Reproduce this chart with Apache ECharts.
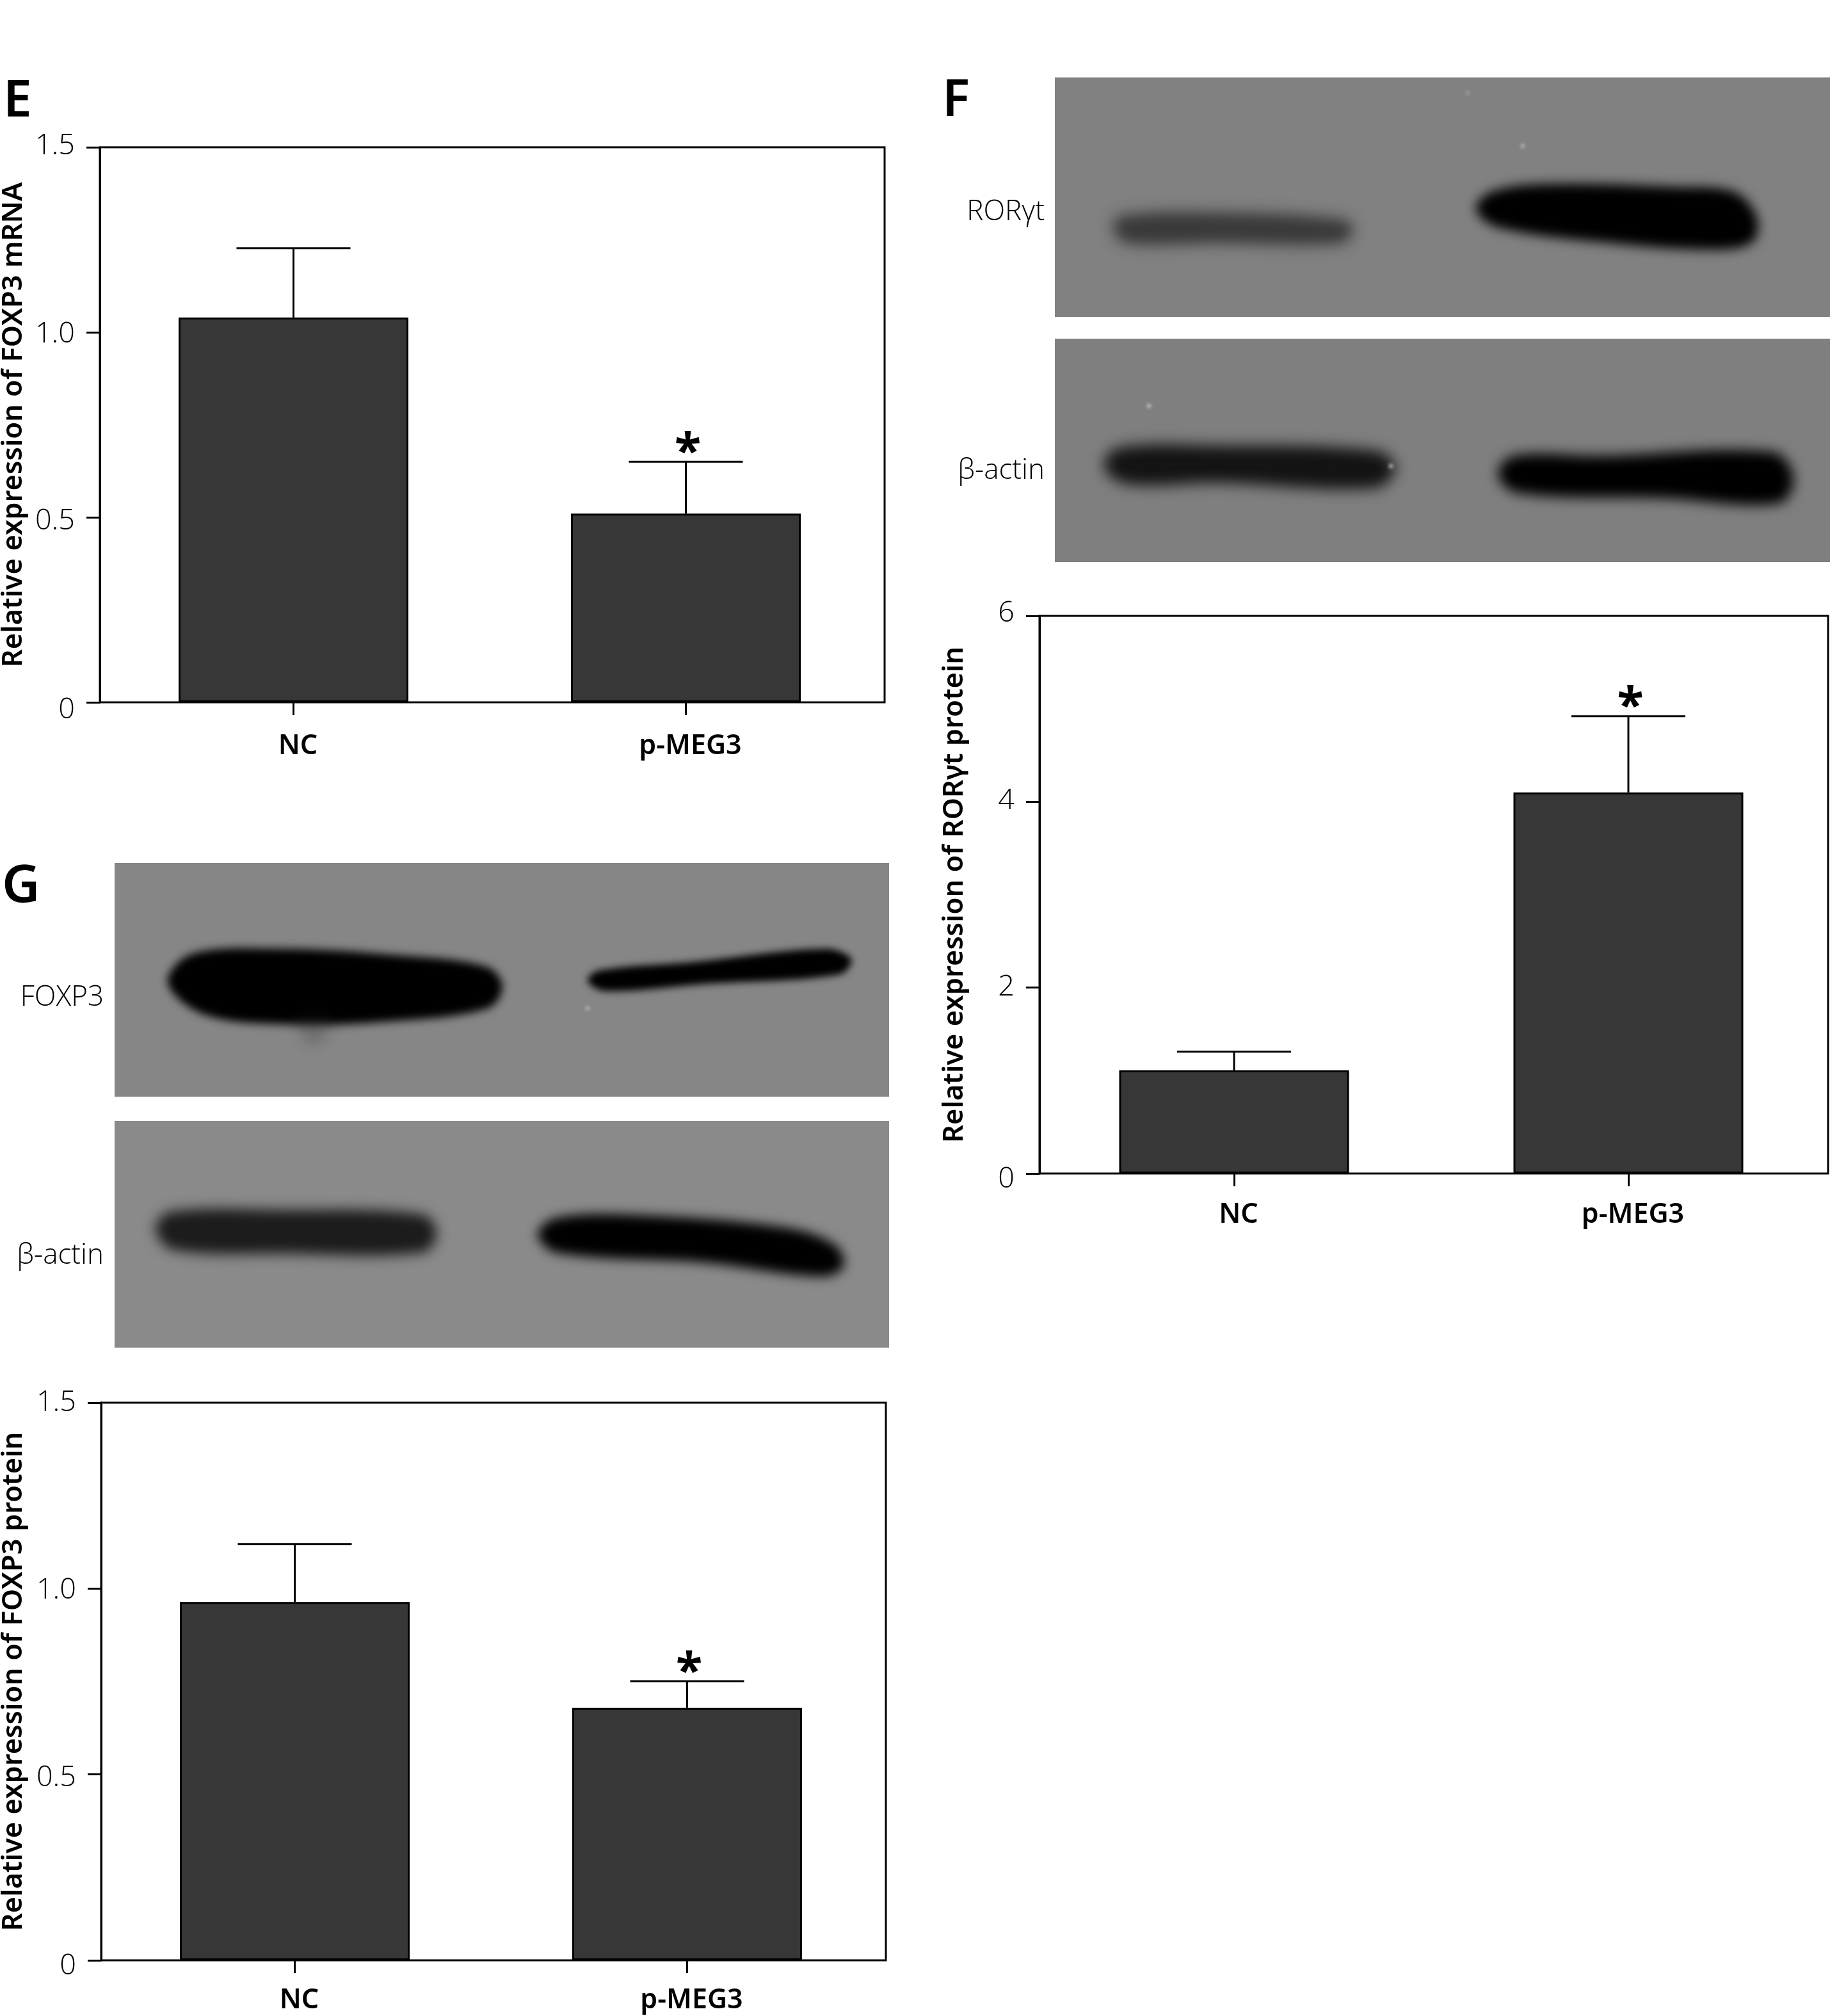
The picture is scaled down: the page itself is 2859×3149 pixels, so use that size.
<!DOCTYPE html>
<html><head><meta charset="utf-8">
<style>html,body{margin:0;padding:0;background:#fff}#c{width:2859px;height:3149px}</style>
<script src="https://cdn.jsdelivr.net/npm/echarts@6/dist/echarts.min.js"></script>
</head><body><div id="c"></div>
<script>
const categories = ['NC', 'p-MEG3'];
const starFlags = [false, true];

const ticksE = ['0', '0.5', '1.0', '1.5'];
const valuesE = [1.04, 0.51];
const errorTopsE = [1.227, 0.65];
const titleE = 'Relative expression of FOXP3 mRNA';

const ticksF = ['0', '2', '4', '6'];
const valuesF = [1.11, 4.10];
const errorTopsF = [1.31, 4.92];
const titleF = 'Relative expression of RORγt protein';

const ticksG = ['0', '0.5', '1.0', '1.5'];
const valuesG = [0.964, 0.679];
const errorTopsG = [1.12, 0.751];
const titleG = 'Relative expression of FOXP3 protein';

const LIGHT = "'Open Sans'", BOLD = "'Noto Sans'";
const option = {
  animation: false, backgroundColor: '#fff',
  grid: [], xAxis: [], yAxis: [], series: [], graphic: { elements: [] }
};

function panel(box, ticks, values, tops, title, shifts) {
  const n = option.grid.length;
  const maxV = Number(ticks[ticks.length - 1]);
  const step = maxV / (ticks.length - 1);
  option.grid.push({ left: box.l, top: box.t, width: box.w, height: box.h, show: true,
    borderColor: '#000', borderWidth: 3, backgroundColor: 'transparent', outerBoundsMode: 'none', containLabel: false });
  option.xAxis.push({ gridIndex: n, type: 'category', data: categories, show: false });
  const rich = {};
  ticks.forEach((t, i) => {
    const s = shifts[i];
    rich['t' + i] = { fontFamily: LIGHT, fontWeight: 300, fontSize: 45, color: '#000',
      padding: s > 0 ? [2 * s, 0, 0, 0] : [0, 0, -2 * s, 0] };
  });
  option.yAxis.push({ gridIndex: n, type: 'value', min: 0, max: maxV, interval: step,
    name: title, nameLocation: 'middle', nameRotate: 90, nameGap: box.nameGap, nameMoveOverlap: false,
    nameTextStyle: { fontFamily: BOLD, fontWeight: 600, fontSize: 43.5, color: '#000' },
    axisLine: { show: true, lineStyle: { color: '#000', width: 3 } },
    axisTick: { show: true, length: 21, lineStyle: { color: '#000', width: 3 } },
    axisLabel: { margin: 39, hideOverlap: false, showMinLabel: true, showMaxLabel: true,
      formatter: v => { const i = Math.round(v / step); return '{t' + i + '|' + ticks[i] + '}'; }, rich },
    splitLine: { show: false } });
  const m = n + 1;
  option.grid.push({ left: box.l - 4, top: box.t, width: box.w, height: box.h, show: false, outerBoundsMode: 'none', containLabel: false });
  option.xAxis.push({ gridIndex: m, type: 'category', data: categories,
    axisLine: { show: false }, axisTick: { show: true, alignWithLabel: true, length: 20, lineStyle: { color: '#000', width: 3 } },
    axisLabel: { margin: box.xMargin, interval: 0, hideOverlap: false,
      formatter: v => '{c|' + v + '}',
      rich: { c: { fontFamily: BOLD, fontWeight: 600, fontSize: 43, color: '#000', padding: [0, 0, 0, 14] } } } });
  option.yAxis.push({ gridIndex: m, type: 'value', min: 0, max: maxV, show: false });
  option.series.push({ type: 'bar', xAxisIndex: m, yAxisIndex: m, data: values, barWidth: 359,
    itemStyle: { color: '#373737', borderColor: '#000', borderWidth: 3 }, silent: true });
  option.series.push({ type: 'custom', xAxisIndex: m, yAxisIndex: m, clip: false, silent: true,
    encode: { x: 0, y: [1, 2] },
    data: values.map((v, i) => [i, v, tops[i], starFlags[i] ? 1 : 0]),
    renderItem: (p, api) => {
      const a = api.coord([api.value(0), api.value(1)]);
      const b = api.coord([api.value(0), api.value(2)]);
      const style = { stroke: '#000', lineWidth: 3, fill: null };
      const kids = [
        { type: 'line', shape: { x1: a[0], y1: a[1], x2: b[0], y2: b[1] }, style },
        { type: 'line', shape: { x1: b[0] - 89, y1: b[1], x2: b[0] + 89, y2: b[1] }, style }
      ];
      if (api.value(3)) kids.push({ type: 'text', x: b[0] + 3, y: b[1] - 13,
        style: { text: '*', fontFamily: BOLD, fontWeight: 700, fontSize: 76, fill: '#000', textAlign: 'center', textVerticalAlign: 'middle' } });
      return { type: 'group', children: kids };
    } });
}

panel({ l: 156, t: 230, w: 1226, h: 867, nameGap: 112, xMargin: 47 }, ticksE, valuesE, errorTopsE, titleE, [12, 6, 3, -2]);
panel({ l: 1624, t: 962, w: 1232, h: 871, nameGap: 110, xMargin: 43 }, ticksF, valuesF, errorTopsF, titleF, [9, 0, -1, -4]);
panel({ l: 158, t: 2191, w: 1226, h: 871, nameGap: 114, xMargin: 41 }, ticksG, valuesG, errorTopsG, titleG, [9, 6, 3, 0]);

const g = option.graphic.elements;
const FAR = 4000;
function blot(x, y, w, h, fill) {
  g.push({ type: 'rect', z: 1, shape: { x, y, width: w, height: h }, style: { fill } });
}
// a band is only the blurred shadow of a shape kept off the canvas, so it has no hard edge
function band(points, fill, blur) {
  g.push({ type: 'polygon', z: 2, x: -FAR, shape: { points, smooth: 0.35 },
    style: { fill, shadowBlur: blur, shadowColor: fill, shadowOffsetX: FAR } });
}
function speck(x, y, r, fill) {
  g.push({ type: 'circle', z: 3, x: -FAR, shape: { cx: x, cy: y, r },
    style: { fill, shadowBlur: 5, shadowColor: fill, shadowOffsetX: FAR } });
}
function txt(x, y, text, size, weight, family, align) {
  g.push({ type: 'text', z: 5, x, y, style: { text, fontSize: size, fontWeight: weight, fontFamily: family,
    fill: '#000', textAlign: align, textVerticalAlign: 'middle' } });
}
blot(1648, 121, 1211, 374, '#818181');
blot(1648, 529, 1211, 349, '#7f7f7f');
blot(179, 1348, 1210, 365, '#868686');
blot(179, 1751, 1210, 354, '#8a8a8a');
// F, RORγt
band([[1748,338],[1900,332],[2100,343],[2114,360],[2095,380],[1900,380],[1760,380],[1740,360]], 'rgba(52,52,52,0.97)', 22);
band([[2325,302],[2400,288],[2620,292],[2710,300],[2745,340],[2738,378],[2680,390],[2500,378],[2340,355],[2306,328]], '#000', 18);
// F, β-actin
band([[1745,700],[1900,696],[2150,704],[2180,730],[2150,762],[1900,754],[1760,756],[1725,730]], '#141414', 22);
band([[2365,712],[2500,712],[2770,706],[2802,745],[2780,786],[2600,778],[2370,770],[2340,740]], '#000', 20);
// G, FOXP3
band([[300,1490],[440,1482],[620,1492],[760,1510],[785,1540],[762,1575],[600,1596],[450,1600],[320,1585],[262,1535]], '#000', 14);
band([[935,1516],[1080,1503],[1290,1482],[1330,1498],[1312,1522],[1100,1537],[945,1548],[918,1532]], '#000', 12);
band([[460,1590],[520,1590],[490,1632]], 'rgba(40,40,40,0.5)', 20);
// G, β-actin
band([[265,1893],[440,1890],[660,1897],[682,1925],[662,1956],[440,1958],[270,1952],[243,1920]], '#1c1c1c', 20);
band([[870,1902],[1000,1898],[1230,1918],[1305,1945],[1318,1978],[1285,1994],[1100,1972],[870,1957],[840,1928]], '#000', 18);
// specks
speck(2379, 228, 3, '#c0c0c0'); speck(1795, 634, 3, '#d0d0d0'); speck(2173, 728, 3, '#d8d8d8');
speck(2293, 145, 3, '#a0a0a0'); speck(918, 1575, 3, '#bcbcbc');
// panel letters
txt(5, 159, 'E', 80, 600, BOLD, 'left');
txt(1472, 158, 'F', 80, 600, BOLD, 'left');
txt(3, 1386, 'G', 82, 600, BOLD, 'left');
// blot labels
txt(1632, 331, 'RORγt', 44, 300, LIGHT, 'right');
txt(1632, 735, 'β-actin', 44, 300, LIGHT, 'right');
txt(162, 1558, 'FOXP3', 44, 300, LIGHT, 'right');
txt(162, 1961, 'β-actin', 44, 300, LIGHT, 'right');

echarts.init(document.getElementById('c'), null, { renderer: 'canvas' }).setOption(option);
</script></body></html>
